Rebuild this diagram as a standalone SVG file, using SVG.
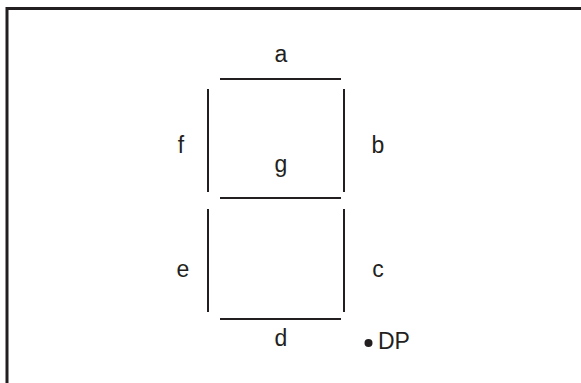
<svg xmlns="http://www.w3.org/2000/svg" width="581" height="383" viewBox="0 0 581 383">
<style>
.seg{stroke:#231f20;stroke-width:2;fill:none}
.lbl{font-family:"Liberation Sans",Arial,sans-serif;font-size:23px;fill:#231f20;text-anchor:middle}
</style>
<rect width="581" height="383" fill="#fff"/>
<rect id="frame" x="7" y="8.5" width="600" height="400" fill="none" stroke="#231f20" stroke-width="3"/>
<g id="connectors">
<line id="seg-a" class="seg" x1="220" y1="79" x2="341" y2="79"/>
<line id="seg-b" class="seg" x1="344" y1="89" x2="344" y2="192"/>
<line id="seg-c" class="seg" x1="344" y1="209" x2="344" y2="312"/>
<line id="seg-d" class="seg" x1="220" y1="319" x2="341" y2="319"/>
<line id="seg-e" class="seg" x1="208" y1="209" x2="208" y2="312"/>
<line id="seg-f" class="seg" x1="208" y1="89" x2="208" y2="192"/>
<line id="seg-g" class="seg" x1="220" y1="198" x2="341" y2="198"/>
</g>
<g id="label-a"><text class="lbl" x="281" y="62">a</text></g>
<g id="label-f"><text class="lbl" x="181" y="153">f</text></g>
<g id="label-b"><text class="lbl" x="378" y="153">b</text></g>
<g id="label-g"><text class="lbl" x="281" y="172">g</text></g>
<g id="label-e"><text class="lbl" x="183" y="277">e</text></g>
<g id="label-c"><text class="lbl" x="378" y="277">c</text></g>
<g id="label-d"><text class="lbl" x="281" y="346">d</text></g>
<g id="label-dp"><circle cx="368.5" cy="343" r="4" fill="#231f20"/><text class="lbl" x="378" y="349" style="text-anchor:start">DP</text></g>
</svg>
